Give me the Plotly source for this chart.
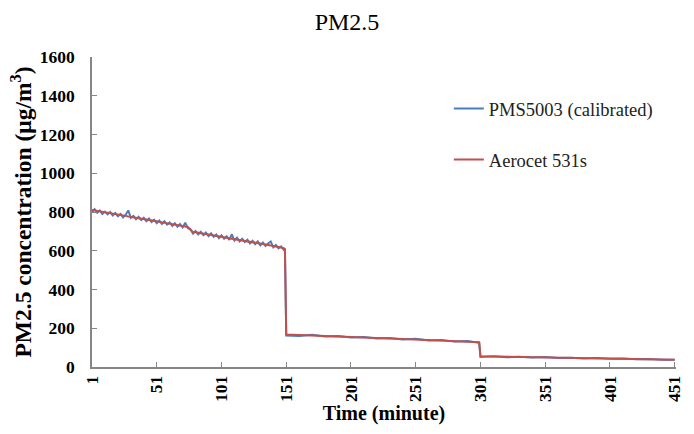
import plotly.graph_objects as go

minutes = [1, 3, 5, 7, 9, 11, 13, 15, 17, 19, 21, 23, 25, 27, 29, 31, 33, 35, 37, 39,
           41, 43, 45, 47, 49, 51, 53, 55, 57, 59, 61, 63, 65, 67, 69, 71, 73, 75, 77, 79,
           81, 83, 85, 87, 89, 91, 93, 95, 97, 99, 101, 103, 105, 107, 109, 111, 113, 115, 117, 119,
           121, 123, 125, 127, 129, 131, 133, 135, 137, 139, 141, 143, 145, 147, 149, 150,
           151, 161, 171, 181, 191, 201, 211, 221, 231, 241, 251, 261, 271, 281, 291, 300,
           301, 311, 321, 331, 341, 351, 361, 371, 381, 391, 401, 411, 421, 431, 441, 451]

pms5003 = [798, 815, 796, 808, 790, 802, 788, 800, 782, 795, 778, 790, 772, 786, 808, 770, 780, 762, 775, 758,
           770, 752, 766, 748, 760, 742, 756, 738, 752, 735, 746, 728, 742, 724, 738, 720, 745, 716, 712, 688,
           702, 684, 698, 680, 694, 675, 690, 672, 684, 665, 680, 662, 675, 656, 685, 652, 668, 648, 662, 645,
           657, 638, 652, 634, 648, 628, 642, 625, 638, 648, 618, 630, 612, 622, 605, 612,
           163, 160, 166, 157, 160, 152, 155, 147, 150, 142, 146, 137, 140, 131, 134, 125,
           52, 55, 50, 53, 49, 51, 46, 48, 44, 46, 42, 44, 40, 41, 37, 38]

aerocet = [810, 808, 805, 803, 801, 798, 796, 794, 791, 789, 787, 784, 782, 780, 777, 775, 773, 770, 768, 766,
           763, 761, 759, 756, 754, 752, 749, 747, 745, 742, 740, 738, 735, 733, 731, 728, 726, 723, 708, 697,
           695, 693, 690, 688, 686, 683, 681, 679, 676, 674, 672, 669, 667, 665, 662, 660, 658, 655, 653, 651,
           648, 646, 644, 641, 639, 637, 634, 632, 630, 627, 625, 623, 620, 617, 613, 607,
           168, 165, 163, 160, 158, 155, 152, 150, 147, 145, 142, 140, 137, 134, 131, 128,
           55, 54, 53, 52, 51, 50, 48, 47, 46, 45, 44, 43, 42, 40, 39, 37]

x_ticks = [1, 51, 101, 151, 201, 251, 301, 351, 401, 451]
y_ticks = [0, 200, 400, 600, 800, 1000, 1200, 1400, 1600]

font = "Liberation Serif, Times New Roman, serif"

fig = go.Figure()
fig.add_trace(go.Scatter(x=minutes, y=pms5003, mode="lines", name="PMS5003 (calibrated)",
                         legendgroup="a", line=dict(color="#4A7EBB", width=2)))
fig.add_trace(go.Scatter(x=minutes, y=aerocet, mode="lines", name="Aerocet 531s",
                         legendgroup="b", line=dict(color="#C0504D", width=2)))

fig.update_layout(
    width=694, height=434,
    margin=dict(l=92, r=10, t=57, b=67),
    paper_bgcolor="white", plot_bgcolor="white",
    font=dict(family=font, color="black"),
    title=dict(text="PM2.5", x=0.5, xref="container", xanchor="center", y=1 - 22 / 434, yanchor="middle",
               font=dict(size=24, family=font, color="black")),
    showlegend=True,
    legend=dict(x=0.611, y=0.894, xanchor="left", yanchor="top", bgcolor="rgba(0,0,0,0)",
                font=dict(size=18.5, family=font, color="#222"), tracegroupgap=24, itemwidth=30),
    xaxis=dict(range=[1, 452], tickvals=x_ticks, ticktext=[str(v) for v in x_ticks], tickangle=-90,
               showgrid=False, zeroline=False, showline=True, linecolor="#868686", linewidth=1.5,
               ticks="inside", ticklen=5, tickcolor="#868686",
               tickfont=dict(size=17.5, family=font, color="black", weight="bold"),
               title=dict(text="Time (minute)", font=dict(size=20, family=font, color="black", weight="bold"),
                          standoff=4)),
    yaxis=dict(range=[0, 1600], tickvals=y_ticks, showgrid=False, zeroline=False, showline=True,
               linecolor="#868686", linewidth=1.5, ticks="inside", ticklen=5, tickcolor="#868686",
               ticklabelstandoff=12,
               tickfont=dict(size=17.5, family=font, color="black", weight="bold"),
               title=dict(text="PM2.5 concentration (μg/m<sup>3</sup>)",
                          font=dict(size=23.5, family=font, color="black", weight="bold"), standoff=2)),
)

fig.write_html("out.html")
